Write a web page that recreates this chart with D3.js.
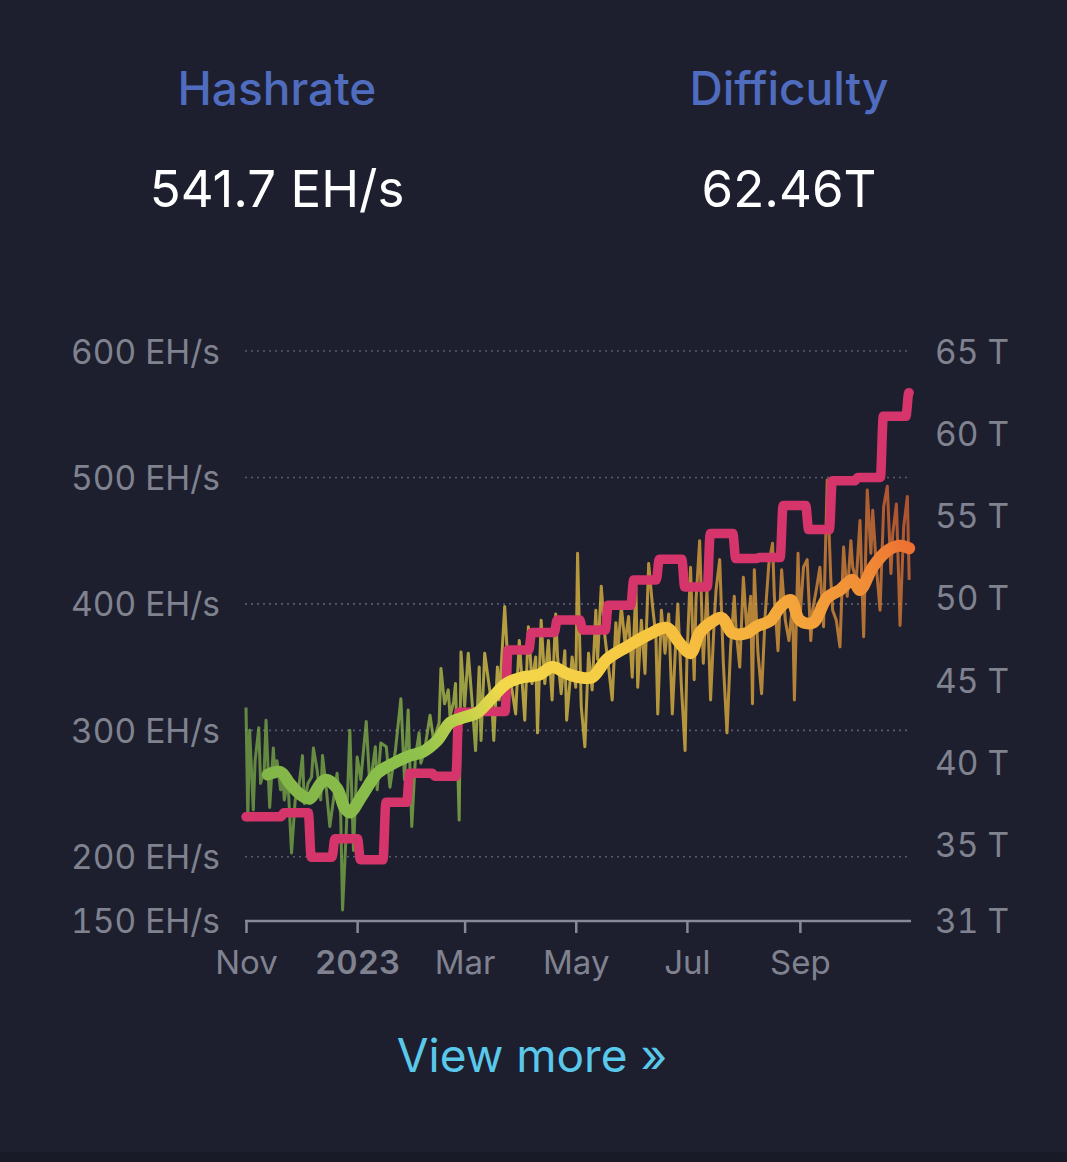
<!DOCTYPE html>
<html>
<head>
<meta charset="utf-8">
<script src="https://cdn.jsdelivr.net/npm/d3@7"></script>
<style>
  html, body { margin: 0; padding: 0; background: #1d1f2f; }
  svg { display: block; }
  .ax text { font-variant-numeric: tabular-nums; font-feature-settings: "tnum"; }
</style>
</head>
<body>
<svg id="chart" width="1067" height="1162"></svg>
<script>
// ---------------- DATA ----------------
const startDate = "2022-11-01";
const endDate = "2023-11-01";

// daily hashrate readings (day offset from startDate, EH/s)
const hashDay = [0,1,2,4,5,7,8,10,11,13,15,16,17,19,20,21,23,25,27,29,31,32,34,36,37,39,41,42,44,46,48,50,52,53,55,57,59,61,63,66,68,71,72,74,77,79,82,85,87,89,91,93,95,96,98,101,103,106,107,109,111,112,114,115,117,118,120,122,124,126,128,129,131,133,135,136,138,139,142,144,146,148,150,151,153,155,157,159,160,162,164,166,168,170,171,173,175,176,179,181,182,184,186,188,190,192,193,195,197,199,201,203,204,206,208,210,212,214,215,217,219,221,223,225,226,228,230,232,234,236,237,239,241,242,244,246,247,249,251,253,255,257,258,260,262,264,266,268,269,271,273,275,277,278,279,281,283,285,287,289,290,292,294,296,298,300,301,303,304,306,308,310,311,313,315,317,319,321,322,324,326,328,330,332,333,335,337,339,341,343,344,346,348,350,352,354,355,357,359,361,363,364];
const hashVal = [318,229,300,237,276,302,258,268,308,239,286,263,276,253,269,245,261,203,245,255,280,242,258,263,286,269,245,280,255,224,245,266,232,158,219,300,205,279,261,307,255,287,253,290,287,255,284,325,261,316,224,279,298,274,284,312,292,306,349,321,332,311,323,337,229,362,319,361,324,284,350,292,361,340,319,292,350,324,398,345,332,313,371,350,308,382,337,358,298,387,337,371,324,392,358,329,363,308,358,334,440,319,287,361,332,395,356,414,374,350,324,385,361,398,369,390,342,414,334,387,345,432,400,374,313,395,361,392,313,374,400,334,284,356,429,340,403,450,353,411,324,387,411,435,353,298,366,406,379,350,421,377,406,321,427,361,329,392,432,448,406,363,427,387,371,400,324,440,387,429,435,371,395,411,429,382,498,419,395,387,366,445,406,450,429,419,466,374,490,440,474,429,395,477,493,424,456,479,383,461,485,419];

// hashrate moving average (day offset, EH/s)
const maDay = [12,19,24,30,35,41,44,50,54,57,64,72,81,90,97,105,112,119,127,134,143,152,161,168,176,183,190,198,209,220,231,238,244,249,255,261,267,275,280,288,293,299,304,311,319,326,333,337,344,352,359,364];
const maVal = [265,267,258,249,246,258,261,254,239,235,249,266,274,280,283,292,306,310,314,324,337,342,344,350,345,342,342,356,366,375,381,369,361,377,385,389,377,377,382,387,397,403,387,385,405,411,419,411,429,442,446,444];

// difficulty adjustments (date, T)
const diffDates = ["2022-11-01","2022-11-21","2022-12-06","2022-12-19","2023-01-02","2023-01-16","2023-01-29","2023-02-12","2023-02-25","2023-03-10","2023-03-24","2023-04-06","2023-04-20","2023-05-04","2023-05-18","2023-06-01","2023-06-15","2023-06-29","2023-07-13","2023-07-27","2023-08-09","2023-08-22","2023-09-05","2023-09-18","2023-10-02","2023-10-16","2023-10-30","2023-10-31"];
const diffVals = [36.7,36.95,34.24,35.36,34.09,37.59,39.35,39.16,43.05,43.1,46.84,47.89,48.66,48.05,49.55,51.09,52.35,50.66,53.91,52.39,52.45,55.62,54.15,57.12,57.32,61.03,62.46,62.46];

// axis ticks
const leftTicks = [150,200,300,400,500,600];
const gridTicks = [200,300,400,500,600];
const rightTicks = [35,40,45,50,55,60,65];
const xTickDates = ["2022-11-01","2023-01-01","2023-03-01","2023-05-01","2023-07-01","2023-09-01"];
const xTickLabels = ["Nov","2023","Mar","May","Jul","Sep"];

const headerTitles = ["Hashrate","Difficulty"];
const headerValues = ["541.7 EH/s","62.46T"];

// ---------------- DRAW ----------------
const parse = d3.utcParse("%Y-%m-%d");
const t0 = parse(startDate);
const svg = d3.select("#chart");
const FONT = "Inter, 'Noto Sans', 'Liberation Sans', sans-serif";

svg.append("rect").attr("width",1067).attr("height",1162).attr("fill","#1d1f2f");
svg.append("rect").attr("y",1152).attr("width",1067).attr("height",10).attr("fill","#181a27");

const x = d3.scaleUtc().domain([t0, parse(endDate)]).range([246, 911]);
const yL = d3.scaleLinear().domain([150, 600]).range([920, 351]);
const yR = d3.scaleLinear().domain([30.43, 65]).range([920, 351]);

// header
const hx = [277, 789];
svg.selectAll("text.htitle").data(headerTitles).join("text")
  .attr("class","htitle")
  .attr("x",(d,i)=>hx[i]).attr("y",105)
  .attr("text-anchor","middle")
  .attr("font-family",FONT).attr("font-size",46).attr("font-weight",500)
  .attr("fill","#4f6cbf").text(d=>d);
svg.selectAll("text.hval").data(headerValues).join("text")
  .attr("class","hval")
  .attr("x",(d,i)=>hx[i]).attr("y",207)
  .attr("text-anchor","middle")
  .attr("font-family",FONT).attr("font-size",51).attr("font-weight",400)
  .attr("fill","#ffffff").text(d=>d);

// gridlines
svg.append("g").selectAll("line").data(gridTicks).join("line")
  .attr("x1",245).attr("x2",910)
  .attr("y1",d=>yL(d)).attr("y2",d=>yL(d))
  .attr("stroke","#575b6e").attr("stroke-width",1.6)
  .attr("stroke-dasharray","2,4");

// left axis
const gl = svg.append("g").attr("class","ax").attr("transform","translate(220,0)")
  .call(d3.axisLeft(yL).tickValues(leftTicks).tickSize(0).tickPadding(0)
        .tickFormat(d=>d+" EH/s"));
gl.select(".domain").remove();
gl.selectAll("text").attr("font-family",FONT).attr("font-size",33.5)
  .attr("fill","#80838f").attr("dy","0.36em");

// right axis
const gr = svg.append("g").attr("class","ax").attr("transform","translate(935,0)")
  .call(d3.axisRight(yR).tickValues([yR.domain()[0]].concat(rightTicks)).tickSize(0).tickPadding(0)
        .tickFormat(d=>Math.ceil(d)+" T"));
gr.select(".domain").remove();
gr.selectAll("text").attr("font-family",FONT).attr("font-size",33.5)
  .attr("fill","#80838f").attr("dy","0.36em");

// x axis
const gx = svg.append("g").attr("class","ax").attr("transform","translate(0,921)")
  .call(d3.axisBottom(x).tickValues(xTickDates.map(parse)).tickSize(12).tickPadding(18)
        .tickFormat((d,i)=>xTickLabels[i]));
gx.select(".domain").attr("d","M245,0H911").attr("stroke","#868998").attr("stroke-width",2.5);
gx.selectAll(".tick line").attr("stroke","#868998").attr("stroke-width",2.5);
gx.selectAll("text").attr("font-family",FONT).attr("font-size",33)
  .attr("fill","#80838f")
  .attr("font-weight",(d,i)=>xTickLabels[i]==="2023"?600:400);

// gradient
const defs = svg.append("defs");
const grad = defs.append("linearGradient").attr("id","hg")
  .attr("gradientUnits","userSpaceOnUse")
  .attr("x1",246).attr("y1",880).attr("x2",911).attr("y2",520);
[[0,"#7db046"],[0.28,"#8ec24c"],[0.36,"#c6d24a"],[0.42,"#f3d84b"],[0.62,"#f7c640"],[0.8,"#f4a63b"],[0.92,"#f08a36"],[1,"#ec6a30"]]
  .forEach(s=>grad.append("stop").attr("offset",s[0]).attr("stop-color",s[1]));

const dayDate = d => d3.utcDay.offset(t0, d);

// thin daily hashrate
const hashData = hashDay.map((d,i)=>({date:dayDate(d), v:hashVal[i]}));
svg.append("path").datum(hashData)
  .attr("d", d3.line().x(d=>x(d.date)).y(d=>yL(d.v)))
  .attr("fill","none").attr("stroke","url(#hg)").attr("stroke-opacity",0.7)
  .attr("stroke-width",3).attr("stroke-linejoin","round");

// difficulty step line (soft steps)
const diffPts = [];
diffDates.forEach((d,i)=>{
  const dt = parse(d);
  if (i === 0 || i === diffDates.length-1) { diffPts.push({date:dt, v:diffVals[i]}); return; }
  diffPts.push({date:new Date(+dt - 0.8*864e5), v:diffVals[i-1]});
  diffPts.push({date:new Date(+dt + 0.8*864e5), v:diffVals[i]});
});
svg.append("path").datum(diffPts)
  .attr("d", d3.line().x(d=>x(d.date)).y(d=>yR(d.v)).curve(d3.curveMonotoneX))
  .attr("fill","none").attr("stroke","#d6356b")
  .attr("stroke-width",9.5).attr("stroke-linejoin","round").attr("stroke-linecap","round");

// moving average
const maData = maDay.map((d,i)=>({date:dayDate(d), v:maVal[i]}));
svg.append("path").datum(maData)
  .attr("d", d3.line().x(d=>x(d.date)).y(d=>yL(d.v)).curve(d3.curveCatmullRom.alpha(0.5)))
  .attr("fill","none").attr("stroke","url(#hg)")
  .attr("stroke-width",12).attr("stroke-linejoin","round").attr("stroke-linecap","round");

// view more
svg.append("text").attr("x",532).attr("y",1072).attr("text-anchor","middle")
  .attr("font-family",FONT).attr("font-size",46).attr("fill","#5ac8eb")
  .text("View more \u00bb");
</script>
</body>
</html>
